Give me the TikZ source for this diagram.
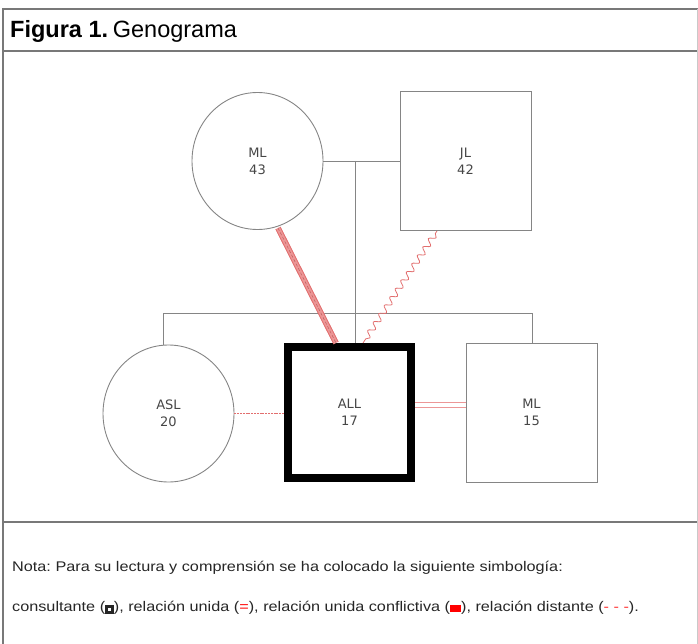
\documentclass[tikz,border=0pt]{standalone}
\usepackage{fontspec}
\setmainfont{Liberation Sans}
\newfontfamily\notefont[FakeStretch=1.16]{Liberation Sans}
\newfontfamily\labfont{DejaVu Sans}
\usetikzlibrary{shapes.geometric,decorations.pathmorphing,calc}
\frenchspacing
\definecolor{frame}{RGB}{120,120,120}
\definecolor{rel}{RGB}{226,110,110}
\definecolor{relpale}{RGB}{236,150,150}
\definecolor{labgray}{RGB}{70,70,70}
\tikzset{
  person/.style={draw=frame!90, line width=0.9pt, font=\labfont\fontsize{13}{17}\selectfont, text=labgray, align=center},
  female/.style={person, ellipse, minimum width=131pt, minimum height=137pt, inner sep=0pt},
  male/.style={person, rectangle, minimum width=131pt, minimum height=139pt, inner sep=0pt},
  index/.style={male, draw=black, line width=8pt, minimum width=123pt, minimum height=131pt},
  kin/.style={draw=frame!90, line width=0.9pt},
  framebar/.style={draw=frame, line width=1.8pt},
  notetext/.style={anchor=west, inner sep=0pt, font=\notefont\fontsize{14}{16}\selectfont, text=black!85}
}
\begin{document}
\begin{tikzpicture}[x=1pt,y=-1pt]
\useasboundingbox (0,0) rectangle (698,644);
% frame
\draw[framebar] (3,644) -- (3,9) -- (698,9);
\draw[framebar] (3,51) -- (698,51);
\draw[framebar] (3,522) -- (698,522);
\draw[draw=frame!40, line width=0.8pt] (697,9) -- (697,644);
\node[anchor=west, inner sep=0pt, font=\fontsize{23.5}{27}\selectfont] (title) at (10,31) {\textbf{Figura 1.}\hspace{0.2em}Genograma};
% persons
\node[female] (ml43) at (257.5,161) {ML\\43};
\node[male] (jl) at (465.5,161) {JL\\42};
\node[female] (asl) at (168.5,413.5) {ASL\\20};
\node[index] (all) at (349.5,412.5) {ALL\\17};
\node[male] (ml15) at (531.5,412.5) {ML\\15};
% kinship
\draw[kin] (ml43.east) -- (jl.west);
\coordinate (mar) at (355,161);
\draw[kin] (mar) -- (mar |- all.north);
\coordinate (sibL) at (163,313);
\coordinate (sibR) at (532,313);
\draw[kin] (sibL |- asl.north) -- (sibL) -- (sibR) -- (sibR |- ml15.north);
% relations
\coordinate (cA) at (278,228);
\coordinate (cB) at (336,343);
\draw[relpale, line width=5.5pt] (cA) -- (cB);
\draw[rel, line width=0.8pt] ($(cA)+(-2.2,1.1)$) -- ($(cB)+(-2.2,1.1)$);
\draw[rel, line width=0.8pt] ($(cA)+(2.2,-1.1)$) -- ($(cB)+(2.2,-1.1)$);
\draw[rel!85!black, line width=0.5pt, dash pattern=on 3pt off 2pt] (cA) -- (cB);
\coordinate (wA) at (437,231);
\coordinate (wB) at (363,343);
\draw[rel, line width=0.8pt, decorate, decoration={snake, amplitude=3pt, segment length=10pt, pre length=3pt, post length=2pt}] (wA) -- (wB);
\draw[rel, line width=1.2pt, dash pattern=on 2pt off 0.8pt] (asl.east) -- (all.west |- asl.east);
\draw[relpale, line width=0.9pt] ([yshift=-2.5pt]all.east |- 0,404.5) -- ([yshift=-2.5pt]ml15.west |- 0,404.5);
\draw[relpale, line width=0.9pt] ([yshift=2.5pt]all.east |- 0,404.5) -- ([yshift=2.5pt]ml15.west |- 0,404.5);
% note
\node[notetext] (n1) at (12,568) {Nota: Para su lectura y comprensión se ha colocado la siguiente simbología:};
\node[notetext] (n2) at (12,608) {consultante ({\setlength{\fboxrule}{2.6pt}\setlength{\fboxsep}{0pt}\raisebox{0.3pt}{\fbox{\rule{3.5pt}{0pt}\rule{0pt}{3.5pt}}}}), relación unida (\textcolor{red}{=}), relación unida conflictiva (\textcolor{red}{\rule[0pt]{11pt}{7pt}}), relación distante (\textcolor{red!80}{- - -}).};
\end{tikzpicture}
\end{document}
